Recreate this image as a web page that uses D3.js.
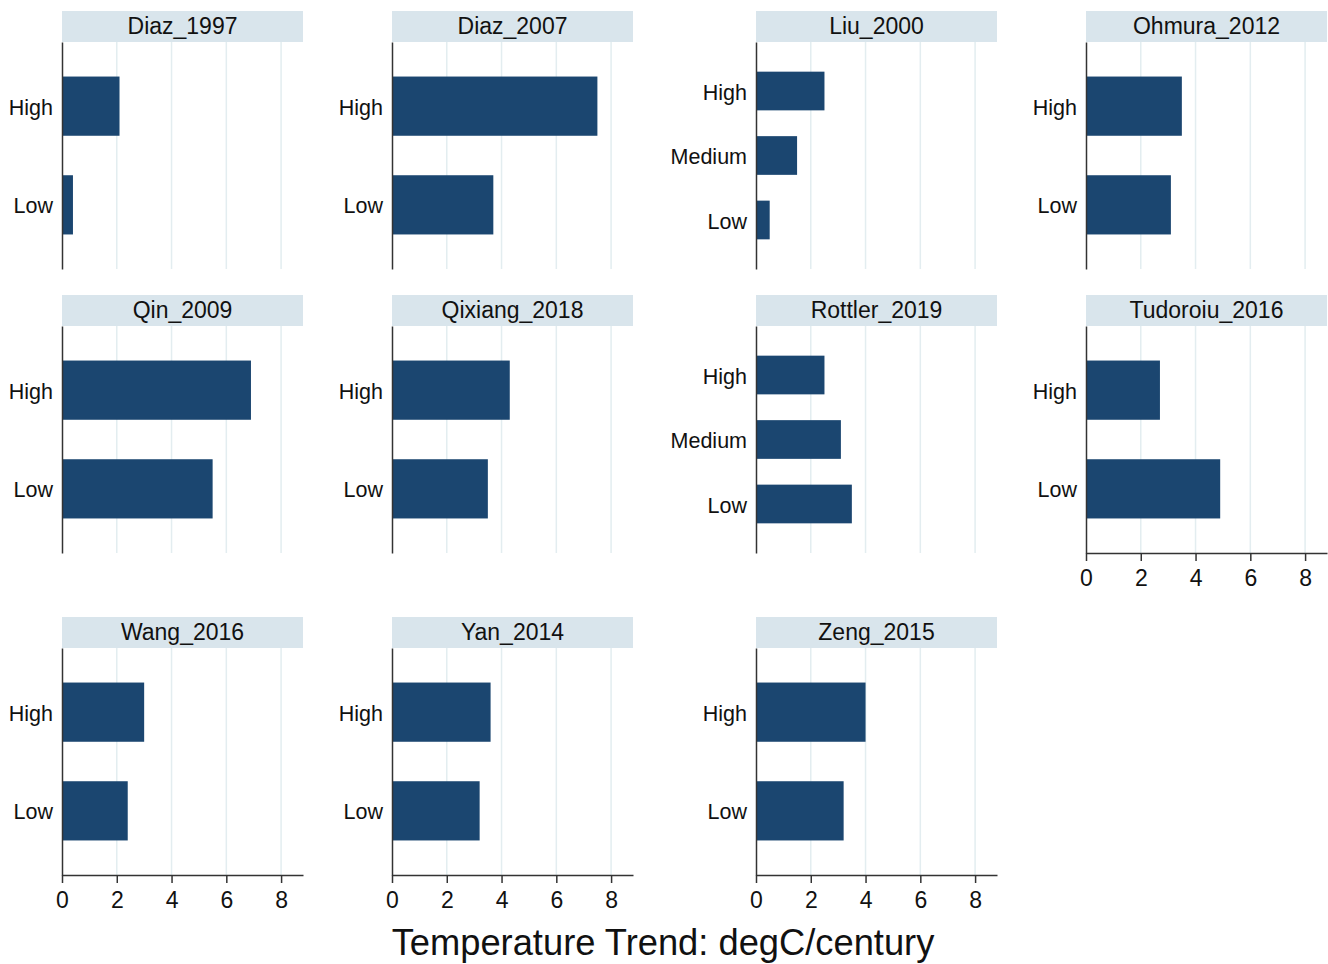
<!DOCTYPE html>
<html>
<head>
<meta charset="utf-8">
<script src="https://cdn.jsdelivr.net/npm/d3@7"></script>
<style>
  html, body { margin: 0; padding: 0; background: #ffffff; }
  svg { display: block; font-family: "Liberation Sans", Arial, sans-serif; }
</style>
</head>
<body>
<svg id="chart" width="1328" height="964"></svg>
<script>
// ---- data ----
const studies = ["Diaz_1997", "Diaz_2007", "Liu_2000", "Ohmura_2012",
                 "Qin_2009", "Qixiang_2018", "Rottler_2019", "Tudoroiu_2016",
                 "Wang_2016", "Yan_2014", "Zeng_2015"];
const categories = [
  ["High", "Low"], ["High", "Low"], ["High", "Medium", "Low"], ["High", "Low"],
  ["High", "Low"], ["High", "Low"], ["High", "Medium", "Low"], ["High", "Low"],
  ["High", "Low"], ["High", "Low"], ["High", "Low"]
];
const values = [
  [2.1, 0.4], [7.5, 3.7], [2.5, 1.5, 0.5], [3.5, 3.1],
  [6.9, 5.5], [4.3, 3.5], [2.5, 3.1, 3.5], [2.7, 4.9],
  [3.0, 2.4], [3.6, 3.2], [4.0, 3.2]
];
const xTicks = [0, 2, 4, 6, 8];
const xTitle = "Temperature Trend: degC/century";

// ---- layout ----
const svg = d3.select("#chart");
const colX = [62, 392, 756, 1086];
const rowY = [11, 295, 617];
const panelW = 241, headerH = 31, plotH = 227;
const ncol = 4;
const barColor = "#1b4670";
const stripColor = "#d9e5ec";
const gridColor = "#e3edf0";
const axisColor = "#333333";

const x = d3.scaleLinear().domain([0, 8.8]).range([0, panelW]);

studies.forEach((name, i) => {
  const c = i % ncol, r = Math.floor(i / ncol);
  const g = svg.append("g").attr("transform", `translate(${colX[c]},${rowY[r]})`);

  // strip header
  g.append("rect").attr("x", 0).attr("y", 0).attr("width", panelW).attr("height", headerH)
    .attr("fill", stripColor);
  g.append("text").attr("x", panelW / 2).attr("y", 22.5)
    .attr("text-anchor", "middle").attr("font-size", 23).attr("fill", "#111")
    .text(name);

  const p = g.append("g").attr("transform", `translate(0,${headerH})`);
  const cats = categories[i];
  const y = d3.scaleBand().domain(cats).range([0, plotH])
    .paddingInner(0.4).paddingOuter(cats.length === 2 ? 0.35 : 0.46);

  // gridlines
  p.selectAll("line.grid").data(xTicks.filter(t => t > 0)).enter().append("line")
    .attr("x1", d => x(d)).attr("x2", d => x(d))
    .attr("y1", 0).attr("y2", plotH)
    .attr("stroke", gridColor).attr("stroke-width", 1.5);

  // bars
  p.selectAll("rect.bar").data(cats.map((k, j) => ({ k, v: values[i][j] }))).enter()
    .append("rect")
    .attr("x", x(0)).attr("y", d => y(d.k))
    .attr("width", d => x(d.v) - x(0)).attr("height", y.bandwidth())
    .attr("fill", barColor);

  // y axis
  const ya = p.append("g").call(d3.axisLeft(y).tickSize(0).tickPadding(9));
  ya.select(".domain").attr("stroke", axisColor).attr("stroke-width", 1.5);
  ya.selectAll("text").attr("font-size", 21.5).attr("fill", "#111").attr("dy", "0.4em")
    .attr("font-family", "Liberation Sans, Arial, sans-serif");

  // x axis for bottom panels of each column
  const showX = (i === 7) || r === 2;
  if (showX) {
    const xa = p.append("g").attr("transform", `translate(0,${plotH})`)
      .call(d3.axisBottom(x).tickValues(xTicks).tickSize(8).tickPadding(9).tickSizeOuter(0));
    xa.select(".domain").attr("stroke", axisColor).attr("stroke-width", 1.5);
    xa.selectAll(".tick line").attr("stroke", axisColor).attr("stroke-width", 1.5);
    xa.selectAll("text").attr("font-size", 23).attr("fill", "#111")
      .attr("font-family", "Liberation Sans, Arial, sans-serif");
  }
});

// overall x title
svg.append("text").attr("x", 663).attr("y", 955).attr("text-anchor", "middle")
  .attr("font-size", 36.3).attr("fill", "#111").text(xTitle);
</script>
</body>
</html>
